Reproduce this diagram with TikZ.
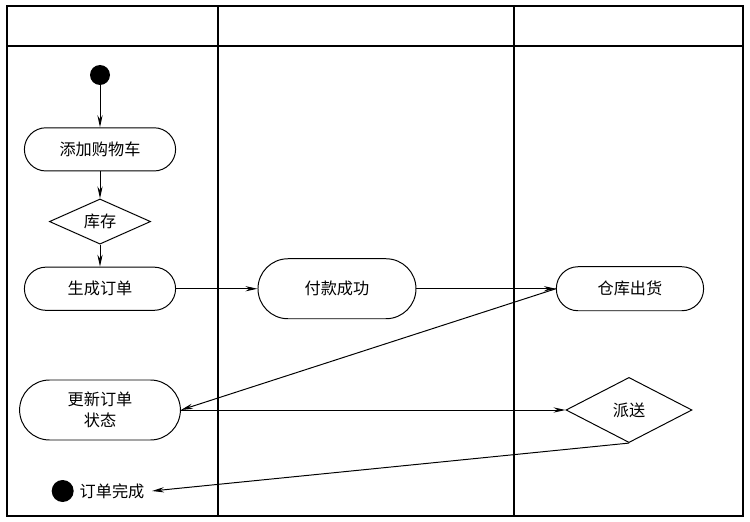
\documentclass[tikz,border=0pt]{standalone}
\usepackage{fontspec}
\newfontfamily\cjk{Noto Sans CJK SC}
\usetikzlibrary{positioning, arrows.meta, shapes.geometric}

\begin{document}
\begin{tikzpicture}[
    action/.style={draw, rectangle, rounded corners=0.54cm, minimum width=3.78cm, minimum height=1.08cm, align=center, line width=0.7pt, font=\cjk\fontsize{11.5}{15}\selectfont},
    bigaction/.style={action, rounded corners=0.75cm, minimum width=3.95cm, minimum height=1.5cm},
    decision/.style={draw, diamond, aspect=2.2, inner sep=0pt, align=center, line width=0.7pt, font=\cjk\fontsize{11.5}{15}\selectfont},
    dot/.style={circle, fill=black, inner sep=0pt},
    label/.style={font=\cjk\fontsize{11.5}{15}\selectfont, inner sep=1pt},
    arrow/.style={-{Stealth[length=3mm, width=1.3mm]}, line width=0.7pt},
    lane/.style={line width=1pt}
]
\useasboundingbox (0,0) rectangle (18.75,-13.05);

% Swimlanes
\draw[lane] (0.175,-0.15) rectangle (18.575,-12.9);
\draw[lane] (0.175,-1.15) -- (18.575,-1.15);
\draw[lane] (5.45,-0.15) -- (5.45,-12.9);
\draw[lane] (12.85,-0.15) -- (12.85,-12.9);

% Nodes
\node[dot, minimum size=0.5cm] (start) at (2.5,-1.875) {};
\node[action, below=1.05cm of start] (cart) {添加购物车};
\node[decision, minimum width=2.53cm, minimum height=1.13cm, below=0.675cm of cart] (stock) {库存};
\node[action, below=0.55cm of stock] (order) {生成订单};
\node[bigaction, right=2.035cm of order] (pay) {付款成功};
\node[action, minimum width=3.68cm, minimum height=1.1cm, right=3.485cm of pay] (store) {仓库出货};
\node[bigaction, minimum width=4.02cm] (update) at (2.5,-10.25) {更新订单\\状态};
\node[decision, minimum width=3.15cm, minimum height=1.63cm] (deliver) at (15.725,-10.25) {派送};
\node[label] (done) at (2.8,-12.275) {订单完成};
\node[dot, minimum size=0.55cm, left=0.1cm of done] (stop) {};

% Edges
\draw[arrow] (start) -- (cart);
\draw[arrow] (cart) -- (stock);
\draw[arrow] (stock) -- (order);
\draw[arrow] (order) -- (pay);
\draw[arrow] (pay) -- (store);
\draw[arrow] (store.west) -- (update.east);
\draw[arrow] (update) -- (deliver);
\draw[arrow] (deliver.south) -- ([xshift=0.15cm]done.east);

\end{tikzpicture}
\end{document}
